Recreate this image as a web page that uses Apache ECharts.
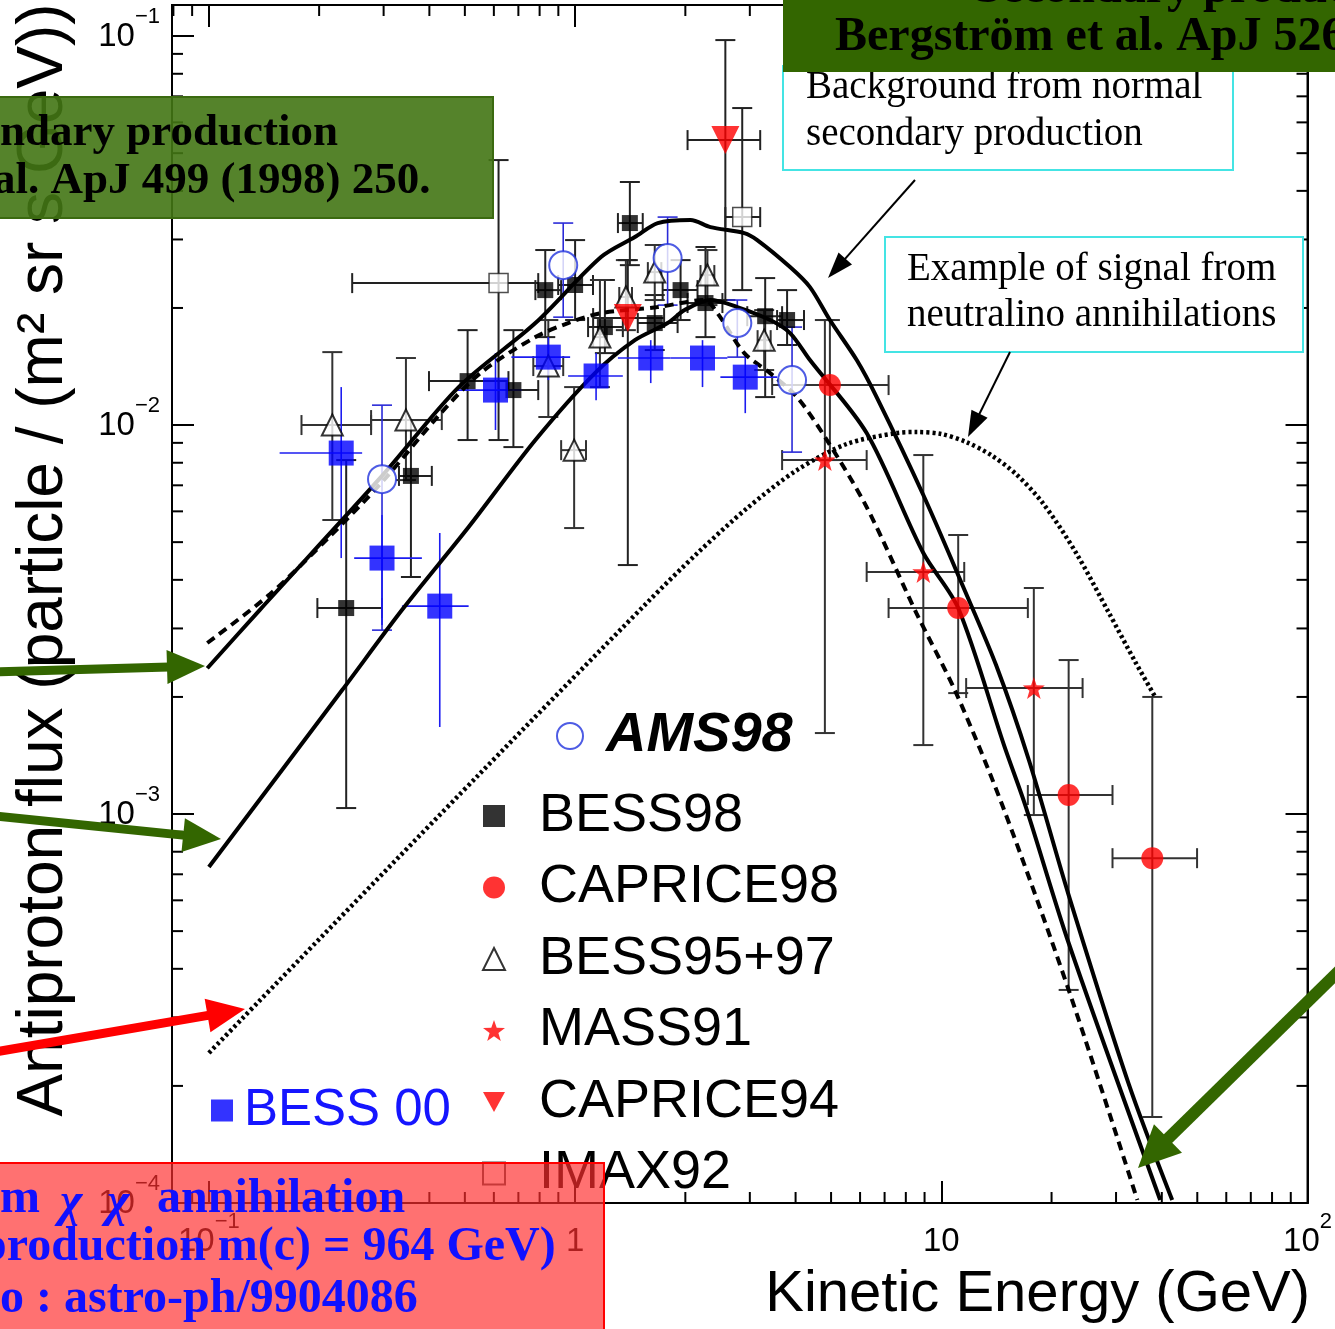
<!DOCTYPE html>
<html>
<head>
<meta charset="utf-8">
<script src="https://cdn.jsdelivr.net/npm/echarts@6/dist/echarts.min.js"></script>
<style>
  html, body { margin: 0; padding: 0; background: #fff; }
  #chart { width: 1335px; height: 1329px; }
</style>
</head>
<body>
<div id="chart"></div>
<script>
// model curves, [kinetic energy GeV, flux]
var bkgUpper = [
  [0.099, 0.00237], [0.1376, 0.003345], [0.297, 0.0074], [0.481, 0.01252], [0.779, 0.01829],
  [1.177, 0.02703], [1.456, 0.03043], [1.681, 0.03306], [2.066, 0.03365], [2.342, 0.03228],
  [2.897, 0.03115], [3.143, 0.02989], [3.864, 0.02548], [4.378, 0.02263], [4.963, 0.01862],
  [5.875, 0.01469], [6.659, 0.0118], [8.93, 0.00661], [11.48, 0.003834], [14.11, 0.002415],
  [17.34, 0.001377], [22.27, 0.000619], [32.43, 0.0002034], [42.7, 0.0001018]
];
var bkgLower = [
  [0.1, 0.000731], [0.2312, 0.002083], [0.3366, 0.003345], [0.512, 0.005467], [0.779, 0.009151],
  [1.133, 0.0136], [1.456, 0.01653], [1.789, 0.01829], [1.991, 0.01975], [2.342, 0.02096],
  [2.773, 0.02011], [3.409, 0.01862], [3.864, 0.01724], [4.378, 0.01469], [6.254, 0.009537],
  [8.93, 0.004688], [11.12, 0.003385], [14.83, 0.001504], [17.02, 0.001042], [22.27, 0.000466],
  [39.6, 0.0001018]
];
var bkgDashed = [
  [0.099, 0.002752], [0.147, 0.003678], [0.2132, 0.005155], [0.297, 0.007136], [0.4325, 0.0108],
  [0.5553, 0.01368], [0.779, 0.01683], [0.957, 0.01829], [1.177, 0.0194], [1.681, 0.02011],
  [2.255, 0.02096], [2.447, 0.0194], [2.897, 0.01531], [3.409, 0.0136], [4.036, 0.0118],
  [4.87, 0.009151], [6.254, 0.006153], [8.55, 0.003285], [10.98, 0.002046], [14.74, 0.001042],
  [22.27, 0.000353], [34.3, 0.0001018]
];
var signalDotted = [
  [0.1, 0.000243], [0.545, 0.00126], [1.579, 0.003508], [2.159, 0.004688], [2.952, 0.006117],
  [4.036, 0.00766], [5.518, 0.008941], [7.544, 0.009537], [8.55, 0.009594], [10.0, 0.009483],
  [11.69, 0.009043], [13.67, 0.008373], [15.99, 0.007482], [18.93, 0.0063], [23.27, 0.004713],
  [28.61, 0.003305], [33.88, 0.002458], [38.39, 0.002]
];

// measurements: [E, flux, E low, E high, flux low, flux high]
var ams98 = [
  [0.297, 0.00726, 0.297, 0.297, 0.00297, 0.01125],
  [0.928, 0.02577, 0.928, 0.928, 0.01894, 0.03306],
  [1.789, 0.02687, 1.789, 1.789, 0.02034, 0.03425],
  [2.773, 0.01829, 2.773, 2.773, 0.01495, 0.02096],
  [3.912, 0.01305, 3.912, 3.912, 0.00852, 0.01786]
];
var bess00 = [
  [0.2298, 0.008472, 0.156, 0.2621, 0.00455, 0.01252],
  [0.297, 0.00455, 0.2493, 0.3816, 0.00306, 0.00587],
  [0.427, 0.003424, 0.3366, 0.512, 0.001674, 0.005279],
  [0.6062, 0.0123, 0.472, 0.7131, 0.00971, 0.01531],
  [0.845, 0.01495, 0.6701, 0.9692, 0.01305, 0.01683],
  [1.141, 0.01337, 0.957, 1.35, 0.01159, 0.01531],
  [1.609, 0.01487, 1.309, 1.823, 0.01282, 0.01653],
  [2.228, 0.01487, 1.823, 2.605, 0.01252, 0.01653],
  [2.915, 0.01328, 2.493, 3.561, 0.01073, 0.01531]
];
var bess98 = [
  [0.2371, 0.003385, 0.1978, 0.297, 0.001036, 0.008128],
  [0.3562, 0.0074, 0.3304, 0.4062, 0.004068, 0.0103],
  [0.5087, 0.01297, 0.399, 0.6576, 0.009151, 0.01754],
  [0.6785, 0.0123, 0.618, 0.7931, 0.008777, 0.01754],
  [0.8289, 0.02223, 0.779, 0.916, 0.01683, 0.02818],
  [1.0, 0.02291, 0.8991, 1.119, 0.01862, 0.02989],
  [1.206, 0.01786, 1.085, 1.35, 0.01531, 0.0236],
  [1.411, 0.03306, 1.309, 1.53, 0.02577, 0.04215],
  [1.65, 0.01829, 1.483, 1.905, 0.01559, 0.02159],
  [1.941, 0.02223, 1.734, 2.159, 0.01862, 0.02655],
  [2.27, 0.02059, 2.028, 2.525, 0.01683, 0.02869],
  [3.304, 0.01905, 2.952, 3.675, 0.0118, 0.02387],
  [3.792, 0.01862, 3.561, 4.217, 0.01606, 0.02223]
];
var bess9597 = [
  [0.2173, 0.01, 0.179, 0.2773, 0.0057, 0.0154],
  [0.3452, 0.0103, 0.2773, 0.4325, 0.00722, 0.01487],
  [0.845, 0.01418, 0.7689, 0.928, 0.01049, 0.01862],
  [0.994, 0.00862, 0.916, 1.071, 0.005435, 0.01252],
  [1.169, 0.01683, 1.12, 1.22, 0.01252, 0.0236],
  [1.376, 0.02134, 1.32, 1.43, 0.01754, 0.02655],
  [1.65, 0.02473, 1.58, 1.72, 0.02096, 0.02903],
  [2.298, 0.0243, 2.2, 2.4, 0.02034, 0.02818],
  [3.283, 0.01653, 3.15, 3.42, 0.01385, 0.01975]
];
var mass91 = [
  [4.809, 0.008128, 3.675, 6.254, 0.001615, 0.01862],
  [8.93, 0.004191, 6.254, 11.55, 0.001504, 0.008373],
  [17.89, 0.002108, 11.69, 24.31, 0.000994, 0.003811]
];
var caprice98 = [
  [4.963, 0.01267, 3.452, 7.178, 0.008128, 0.01862],
  [11.12, 0.003385, 7.178, 17.23, 0.002046, 0.005216],
  [22.27, 0.001119, 17.23, 29.34, 0.000353, 0.002488],
  [37.68, 0.00077, 29.34, 49.93, 0.0001664, 0.002]
];
var caprice94 = [
  [1.393, 0.01884, 1.12, 1.75, 0.004366, 0.02655],
  [2.572, 0.05403, 2.028, 3.202, 0.02096, 0.09766]
];
var imax92 = [
  [0.618, 0.02317, 0.2462, 0.7931, 0.009151, 0.048],
  [2.86, 0.03425, 2.572, 3.202, 0.02223, 0.06531]
];

// minor tick positions
var xMinorTicks = [0.08, 0.09, 0.2, 0.3, 0.4, 0.5, 0.6, 0.7, 0.8, 0.9, 2, 3, 4, 5, 6, 7, 8, 9, 20, 30, 40, 50, 60, 70, 80, 90];
var yMinorTicks = [0.0002, 0.0003, 0.0004, 0.0005, 0.0006, 0.0007, 0.0008, 0.0009,
  0.002, 0.003, 0.004, 0.005, 0.006, 0.007, 0.008, 0.009,
  0.02, 0.03, 0.04, 0.05, 0.06, 0.07, 0.08, 0.09];

var SANS = '"Liberation Sans", Arial, sans-serif';
var SERIF = '"Liberation Serif", "Times New Roman", serif';
var starPath = 'path://M0,-10L2.35,-3.24L9.51,-3.09L3.8,1.24L5.88,8.09L0,4L-5.88,8.09L-3.8,1.24L-9.51,-3.09L-2.35,-3.24Z';
var downTriangle = 'path://M0,0L10,0L5,9Z';

var chart = echarts.init(document.getElementById('chart'));

function pow10Label(v) {
  var l = Math.log10(v);
  var e = Math.round(l);
  if (Math.abs(l - e) > 0.01) return '';
  if (e === 0) return '{b|1}';
  if (e === 1) return '{b|10}';
  return '{b|10}{s|' + (e < 0 ? '\u2212' : '') + Math.abs(e) + '}';
}
var tickRich = {
  b: { fontSize: 33, lineHeight: 47, verticalAlign: 'bottom', fontFamily: SANS, color: '#000' },
  s: { fontSize: 22, lineHeight: 22, verticalAlign: 'top', fontFamily: SANS, color: '#000' }
};

function errorBars(color, width, cap) {
  return function (params, api) {
    var lo = api.coord([api.value(0), api.value(4)]);
    var hi = api.coord([api.value(0), api.value(5)]);
    var l = api.coord([api.value(2), api.value(1)]);
    var r = api.coord([api.value(3), api.value(1)]);
    var st = { stroke: color, lineWidth: width };
    var kids = [
      { type: 'line', shape: { x1: lo[0], y1: lo[1], x2: hi[0], y2: hi[1] }, style: st }
    ];
    var hasX = Math.abs(r[0] - l[0]) > 1;
    if (hasX) kids.push({ type: 'line', shape: { x1: l[0], y1: l[1], x2: r[0], y2: r[1] }, style: st });
    if (cap) {
      kids.push({ type: 'line', shape: { x1: lo[0] - cap, y1: lo[1], x2: lo[0] + cap, y2: lo[1] }, style: st });
      kids.push({ type: 'line', shape: { x1: hi[0] - cap, y1: hi[1], x2: hi[0] + cap, y2: hi[1] }, style: st });
      if (hasX) {
        kids.push({ type: 'line', shape: { x1: l[0], y1: l[1] - cap, x2: l[0], y2: l[1] + cap }, style: st });
        kids.push({ type: 'line', shape: { x1: r[0], y1: r[1] - cap, x2: r[0], y2: r[1] + cap }, style: st });
      }
    }
    return { type: 'group', children: kids };
  };
}

function errSeries(name, data, color, width, cap) {
  return {
    name: name, type: 'custom', z: 2, silent: true,
    renderItem: errorBars(color, width, cap),
    encode: { x: 0, y: 1 },
    data: data
  };
}

function markSeries(name, data, symbol, size, style, rotate) {
  return {
    name: name, type: 'scatter', z: 5, symbol: symbol, symbolSize: size,
    symbolRotate: rotate || 0, itemStyle: style, silent: true,
    data: data.map(function (d) { return [d[0], d[1]]; })
  };
}

function curve(name, data, type, width) {
  return {
    name: name, type: 'line', z: 3, showSymbol: false, symbol: 'none', smooth: 0.3, silent: true,
    lineStyle: { color: '#000', width: width, type: type },
    data: data
  };
}

// annotation arrow in page pixels
function arrow(x1, y1, x2, y2, w, hl, hw, color) {
  var dx = x2 - x1, dy = y2 - y1, L = Math.sqrt(dx * dx + dy * dy);
  var ux = dx / L, uy = dy / L;
  var bx = x2 - ux * hl, by = y2 - uy * hl;
  return [
    { type: 'line', z: 120, shape: { x1: x1, y1: y1, x2: bx + ux * 2, y2: by + uy * 2 }, style: { stroke: color, lineWidth: w } },
    { type: 'polygon', z: 120, shape: { points: [[x2, y2], [bx - uy * hw / 2, by + ux * hw / 2], [bx + uy * hw / 2, by - ux * hw / 2]] }, style: { fill: color } }
  ];
}

function txt(s, x, y, font, color, align, z) {
  return { type: 'text', z: z || 130, style: { text: s, x: x, y: y, font: font, fill: color, textAlign: align || 'left', textVerticalAlign: 'middle' } };
}

var redFont = 'bold 48px ' + SERIF;
var graphics = [
  // axis titles
  { type: 'text', z: 50, x: 44, y: 560, rotation: Math.PI / 2,
    style: { text: 'Antiproton flux (particle / (m\u00b2 sr s GeV))', font: '64px ' + SANS, fill: '#000', textAlign: 'center', textVerticalAlign: 'middle' } },
  txt('Kinetic Energy (GeV)', 1310, 1295, '58px ' + SANS, '#000', 'right', 50),

  // note boxes
  { type: 'rect', z: 100, shape: { x: 783, y: 66, width: 450, height: 104 }, style: { fill: '#fff', stroke: '#44e4e4', lineWidth: 2 } },
  txt('Background from normal', 806, 88, '39px ' + SERIF, '#000', 'left', 101),
  txt('secondary production', 806, 135, '39px ' + SERIF, '#000', 'left', 101),
  { type: 'rect', z: 100, shape: { x: 885, y: 237, width: 418, height: 115 }, style: { fill: '#fff', stroke: '#44e4e4', lineWidth: 2 } },
  txt('Example of signal from', 907, 270, '39px ' + SERIF, '#000', 'left', 101),
  txt('neutralino annihilations', 907, 316, '39px ' + SERIF, '#000', 'left', 101),

  // overlay labels
  { type: 'rect', z: 110, shape: { x: 783, y: -2, width: 560, height: 74 }, style: { fill: '#336600' } },
  txt('Secondary production', 975, -10, 'bold 48px ' + SERIF, '#000', 'left', 111),
  txt('Bergstr\u00f6m et al. ApJ 526', 835, 38, 'bold 48px ' + SERIF, '#000', 'left', 111),

  { type: 'rect', z: 110, shape: { x: -2, y: 97, width: 495, height: 121 }, style: { fill: 'rgba(66,118,20,0.9)', stroke: '#3b6a10', lineWidth: 2 } },
  txt('ndary production', 0, 133, 'bold 45px ' + SERIF, '#000', 'left', 111),
  txt('al. ApJ 499 (1998) 250.', -7, 181, 'bold 45px ' + SERIF, '#000', 'left', 111),

  { type: 'rect', z: 110, shape: { x: -2, y: 1163, width: 606, height: 170 }, style: { fill: 'rgba(255,45,45,0.68)', stroke: '#ff0000', lineWidth: 2 } },
  txt('m', 0, 1200, redFont, '#1010ff', 'left', 111),
  txt('\u03c7', 60, 1204, 'bold italic 48px ' + SERIF, '#1010ff', 'left', 111),
  txt('\u03c7', 107, 1204, 'bold italic 48px ' + SERIF, '#1010ff', 'left', 111),
  txt('annihilation', 157, 1200, redFont, '#1010ff', 'left', 111),
  txt('production m(c) = 964 GeV)', -20, 1248, redFont, '#1010ff', 'left', 111),
  txt('o : astro-ph/9904086', 0, 1300, redFont, '#1010ff', 'left', 111)
];
graphics = graphics
  .concat(arrow(915, 180, 828, 278, 2, 26, 18, '#000'))
  .concat(arrow(1010, 352, 968, 437, 2, 26, 18, '#000'))
  .concat(arrow(-5, 672, 205, 666, 9, 38, 34, '#336600'))
  .concat(arrow(-5, 816, 221, 839, 9, 38, 34, '#336600'))
  .concat(arrow(-5, 1052, 245, 1009, 9, 38, 34, '#ff0000'))
  .concat(arrow(1345, 965, 1138, 1168, 12, 42, 40, '#336600'));

var xBase = { type: 'log', logBase: 10, min: 0.0793, max: 100 };
var yBase = { type: 'log', logBase: 10, min: 0.0001, max: 0.1202 };
var tick = { show: true, inside: true, length: 22, lineStyle: { color: '#000', width: 2 } };
var line = { show: true, lineStyle: { color: '#000', width: 2 } };

var option = {
  animation: false,
  backgroundColor: '#fff',
  grid: { left: 172, right: 22, top: 5, bottom: 126, show: true, borderColor: '#000', borderWidth: 2 },
  xAxis: [
    Object.assign({}, xBase, { position: 'bottom', axisLine: line, axisTick: tick, splitLine: { show: false },
      axisLabel: { margin: 8, padding: [0, 0, 13, 0], formatter: pow10Label, rich: tickRich } }),
    Object.assign({}, xBase, { position: 'top', axisLine: line, axisTick: tick, splitLine: { show: false }, axisLabel: { show: false } })
  ],
  yAxis: [
    Object.assign({}, yBase, { position: 'left', axisLine: line, axisTick: tick, splitLine: { show: false },
      axisLabel: { margin: 12, padding: [0, 0, 13, 0], formatter: pow10Label, rich: tickRich } }),
    Object.assign({}, yBase, { position: 'right', axisLine: line, axisTick: tick, splitLine: { show: false }, axisLabel: { show: false } })
  ],
  legend: [
    { data: ['AMS98'], orient: 'vertical', left: 551, top: 703, itemWidth: 30, itemHeight: 26, selectedMode: false,
      textStyle: { fontSize: 56, fontWeight: 'bold', fontStyle: 'italic', fontFamily: SANS, color: '#000', padding: [0, 0, 0, 16] } },
    { data: ['BESS98', 'CAPRICE98', 'BESS95+97', 'MASS91', { name: 'CAPRICE94', icon: downTriangle }, 'IMAX92'],
      orient: 'vertical', left: 477, top: 783, itemWidth: 22, itemHeight: 22, itemGap: 15.5, selectedMode: false,
      textStyle: { fontSize: 54, lineHeight: 56, fontFamily: SANS, color: '#000', padding: [0, 0, 0, 29] } },
    { data: ['BESS 00'], left: 206, top: 1080, itemWidth: 22, itemHeight: 22, selectedMode: false,
      textStyle: { fontSize: 51, fontFamily: SANS, color: '#1515ff', padding: [0, 0, 0, 6] } }
  ],
  graphic: graphics,
  series: [
    {
      name: 'xminor', type: 'custom', silent: true, z: 1,
      renderItem: function (params, api) {
        var cs = params.coordSys;
        var x = api.coord([api.value(0), 0.01])[0];
        var st = { stroke: '#000', lineWidth: 2 };
        return { type: 'group', children: [
          { type: 'line', shape: { x1: x, y1: cs.y + cs.height, x2: x, y2: cs.y + cs.height - 11 }, style: st },
          { type: 'line', shape: { x1: x, y1: cs.y, x2: x, y2: cs.y + 11 }, style: st }
        ] };
      },
      data: xMinorTicks.map(function (v) { return [v, 0.01]; })
    },
    {
      name: 'yminor', type: 'custom', silent: true, z: 1,
      renderItem: function (params, api) {
        var cs = params.coordSys;
        var y = api.coord([1, api.value(1)])[1];
        var st = { stroke: '#000', lineWidth: 2 };
        return { type: 'group', children: [
          { type: 'line', shape: { x1: cs.x, y1: y, x2: cs.x + 11, y2: y }, style: st },
          { type: 'line', shape: { x1: cs.x + cs.width, y1: y, x2: cs.x + cs.width - 11, y2: y }, style: st }
        ] };
      },
      data: yMinorTicks.map(function (v) { return [1, v]; })
    },
    curve('upper background', bkgUpper, 'solid', 4),
    curve('lower background', bkgLower, 'solid', 4),
    curve('dashed background', bkgDashed, [9, 6], 4),
    curve('neutralino signal', signalDotted, [3, 3], 4.5),

    errSeries('IMAX92 err', imax92, '#222', 2, 10),
    errSeries('BESS98 err', bess98, '#222', 2, 10),
    errSeries('BESS95+97 err', bess9597, '#333', 2, 10),
    errSeries('CAPRICE94 err', caprice94, '#222', 2, 10),
    errSeries('CAPRICE98 err', caprice98, '#333', 2, 10),
    errSeries('MASS91 err', mass91, '#333', 2, 10),
    errSeries('AMS98 err', ams98, '#2a2ad8', 1.6, 10),
    errSeries('BESS 00 err', bess00, '#1c1cf0', 1.6, 0),

    markSeries('IMAX92', imax92, 'rect', 19, { color: '#fff', borderColor: '#222', borderWidth: 1.5 }),
    markSeries('BESS98', bess98, 'rect', 16, { color: '#000' }),
    markSeries('BESS95+97', bess9597, 'triangle', 21, { color: '#fff', borderColor: '#000', borderWidth: 2 }),
    markSeries('BESS 00', bess00, 'rect', 25, { color: '#0000ff' }),
    markSeries('CAPRICE94', caprice94, 'triangle', 28, { color: '#ff0000' }, 180),
    markSeries('CAPRICE98', caprice98, 'circle', 22, { color: '#ff0000' }),
    markSeries('MASS91', mass91, starPath, 22, { color: '#ff0000' }),
    markSeries('AMS98', ams98, 'circle', 28, { color: '#fff', borderColor: '#2233dd', borderWidth: 2 })
  ]
};

chart.setOption(option);
</script>
</body>
</html>
